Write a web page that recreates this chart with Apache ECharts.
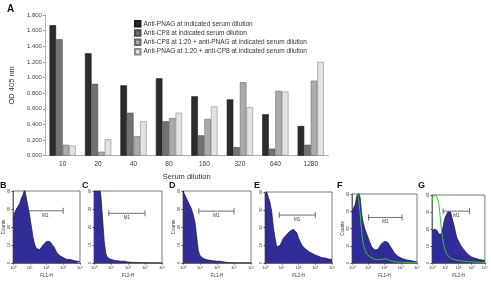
<!DOCTYPE html>
<html>
<head>
<meta charset="utf-8">
<script src="https://cdn.jsdelivr.net/npm/echarts@6/dist/echarts.min.js"></script>
<style>
html, body { margin: 0; padding: 0; background: #fff; }
#main { width: 491px; height: 281px; }
</style>
</head>
<body>
<div id="main"></div>
<script>
// panel A: ELISA OD by serum dilution
var dilutions = ['10', '20', '40', '80', '160', '320', '640', '1280']
var antiPNAG = [1.67, 1.31, 0.90, 0.99, 0.76, 0.72, 0.53, 0.38]
var antiCP8 = [1.49, 0.92, 0.55, 0.44, 0.26, 0.11, 0.09, 0.14]
var cp8PlusPNAG = [0.14, 0.05, 0.25, 0.48, 0.47, 0.94, 0.83, 0.96]
var pnagPlusCP8 = [0.13, 0.21, 0.44, 0.55, 0.63, 0.62, 0.82, 1.20]
var seriesNames = [
    'Anti-PNAG at indicated serum dilution',
    'Anti-CP8 at indicated serum dilution',
    'Anti-CP8 at 1:20 + anti-PNAG at indicated serum dilution',
    'Anti-PNAG at 1:20 + anti-CP8 at indicated serum dilution'
]

// panels B-G: flow histograms, channel position in decades (10^0 .. 10^4)
var decades = [0, 0.1, 0.2, 0.3, 0.4, 0.5, 0.6, 0.7, 0.8, 0.9, 1, 1.1, 1.2, 1.3, 1.4, 1.5, 1.6, 1.7, 1.8, 1.9, 2,
    2.1, 2.2, 2.3, 2.4, 2.5, 2.6, 2.7, 2.8, 2.9, 3, 3.1, 3.2, 3.3, 3.4, 3.5, 3.6, 3.7, 3.8, 3.9, 4]
var histB = [24, 28, 30, 31, 33, 36, 38, 41, 36, 31, 26, 20, 14, 10, 8, 7, 7.5, 8.5, 10, 11, 12,
    12.5, 12, 11, 9.5, 8, 6, 5, 4, 3.5, 3, 2.5, 2, 2.5, 2, 1.5, 1.5, 1.2, 1, 1, 0.8]
var histC = [45, 45, 44, 42, 38, 25, 12, 5, 3, 2.5, 2, 1.8, 1.5, 1.5, 1.2, 1, 1, 1.2, 1, 0.8, 0.5,
    0.5, 0.4, 0.4, 0.3, 0.3, 0.3, 0.2, 0.2, 0.2, 0.2, 0.2, 0.1, 0.1, 0.1, 0.1, 0.1, 0.1, 0.1, 0.1, 0.1]
var histD = [40, 38, 36, 34, 32, 30, 27, 23, 15, 7, 4, 3, 2.5, 2, 1.8, 1.5, 1.5, 1.2, 1.2, 1.5, 1,
    1.2, 1, 0.8, 0.6, 0.4, 0.3, 0.3, 0.2, 0.2, 0.2, 0.2, 0.1, 0.1, 0.1, 0.1, 0.1, 0.1, 0.1, 0.1, 0.1]
var histE = [38, 40, 37, 34, 29, 20, 14, 9, 8, 10, 12, 14, 15, 16, 17, 18, 19, 19, 18, 17, 14,
    12, 10, 9, 8, 7, 6.5, 6, 5.5, 5, 4.5, 4, 3.8, 3.5, 3, 3, 2.8, 2.5, 2.2, 2, 2]
var histF = [29, 32, 34, 39, 41, 38, 28, 23, 19.5, 17, 14.5, 12, 9.5, 8.5, 7.5, 7.5, 8, 9, 11, 12, 12.5,
    13, 12, 10.5, 9, 7.5, 6, 5, 4, 3.5, 3, 2.5, 2.2, 2, 1.8, 1.5, 1.4, 1.2, 1, 1, 0.8]
var histFctrl = [45, 45, 44, 42, 38, 29, 17, 11, 7.5, 5.5, 4.5, 3.5, 3, 2.5, 2.2, 2, 2, 2, 2, 2.2, 2.5,
    2.5, 2, 1.5, 1.2, 1, 0.8, 0.7, 0.6, 0.5, 0.5, 0.4, 0.4, 0.3, 0.3, 0.3, 0.2, 0.2, 0.2, 0.2, 0.2]
var histG = [19, 20, 20, 19.5, 19, 17, 16, 17, 20, 24, 27, 28, 30, 31, 30, 27, 24, 21, 17, 14.5, 13,
    11.5, 10, 9, 8, 7, 6, 5, 4.5, 4, 3.5, 3, 3, 2.8, 2.5, 2.3, 2, 2, 1.8, 1.5, 1.5]
var histGctrl = [36, 40, 40, 40, 40, 36, 29, 20, 15, 10, 7.5, 5.5, 4.5, 3.5, 3, 2.5, 2.2, 2, 1.8, 1.5, 1.5,
    1.3, 1.2, 1.1, 1, 1, 0.9, 0.8, 0.8, 0.7, 0.7, 0.6, 0.6, 0.5, 0.5, 0.5, 0.4, 0.4, 0.4, 0.3, 0.3]
// M1 gate: [from decade, to decade, count level]
var gateB = [0.87, 3.0, 29]
var gateC = [0.87, 3.0, 27.6]
var gateD = [0.93, 3.0, 28.8]
var gateE = [0.85, 3.0, 27]
var gateF = [1.02, 3.08, 26.4]
var gateG = [0.84, 2.84, 30.5]

var font = 'Liberation Sans, Arial, sans-serif'
var sup = ['\u2070', '\u00b9', '\u00b2', '\u00b3', '\u2074']

var panels = [
    { letter: 'B', hist: histB, ctrl: null, gate: gateB, xName: 'FL1-H', counts: true, box: [11, 191, 69, 72] },
    { letter: 'C', hist: histC, ctrl: null, gate: gateC, xName: 'FL2-H', counts: false, box: [94, 191, 68, 72] },
    { letter: 'D', hist: histD, ctrl: null, gate: gateD, xName: 'FL1-H', counts: true, box: [183, 191, 68, 72] },
    { letter: 'E', hist: histE, ctrl: null, gate: gateE, xName: 'FL2-H', counts: false, box: [265, 192, 67, 71] },
    { letter: 'F', hist: histF, ctrl: histFctrl, gate: gateF, xName: 'FL1-H', counts: true, box: [352, 194, 65, 69] },
    { letter: 'G', hist: histG, ctrl: histGctrl, gate: gateG, xName: 'FL2-H', counts: false, box: [432, 195, 68, 68] }
]
var letterX = [0, 82, 169, 254, 337, 418]

function gateItem(params, api) {
    var a = api.coord([api.value(0), api.value(2)])
    var b = api.coord([api.value(1), api.value(2)])
    var st = { stroke: '#333', lineWidth: 0.7 }
    return {
        type: 'group',
        children: [
            { type: 'line', shape: { x1: a[0], y1: a[1], x2: b[0], y2: b[1] }, style: st },
            { type: 'line', shape: { x1: a[0], y1: a[1] - 3, x2: a[0], y2: a[1] + 3 }, style: st },
            { type: 'line', shape: { x1: b[0], y1: b[1] - 3, x2: b[0], y2: b[1] + 3 }, style: st },
            {
                type: 'text',
                style: {
                    text: 'M1', x: (a[0] + b[0]) / 2, y: a[1] + 2,
                    align: 'center', verticalAlign: 'top',
                    fontSize: 4.5, fontFamily: font, fill: '#333'
                }
            }
        ]
    }
}

var grids = [{ left: 39.5, right: 162.5, top: 15, bottom: 125.3 }]
var xAxes = [{
    type: 'category', gridIndex: 0, data: dilutions,
    name: 'Serum dilution', nameLocation: 'middle', nameGap: 16,
    nameTextStyle: { fontSize: 7.5, color: '#333', fontFamily: font },
    axisLine: { lineStyle: { color: '#999', width: 0.8 } },
    axisTick: { length: 3, lineStyle: { color: '#999' } },
    axisLabel: { fontSize: 6.5, color: '#333', margin: 5, fontFamily: font }
}]
var yAxes = [{
    type: 'value', gridIndex: 0, min: 0, max: 1.8, interval: 0.2,
    name: 'OD 405 nm', nameLocation: 'middle', nameGap: 25,
    nameTextStyle: { fontSize: 7.5, color: '#333', fontFamily: font },
    axisLine: { show: true, lineStyle: { color: '#999', width: 0.8 } },
    axisTick: { show: true, length: 2, lineStyle: { color: '#999' } },
    splitLine: { show: false },
    axisLabel: { fontSize: 6, color: '#444', margin: 3, fontFamily: font, formatter: function (v) { return v.toFixed(3) } }
}]

var barColors = ['#2b2b30', '#727272', '#ababab', '#e2e2e2']
var barBorders = ['#1a1a1a', '#4a4a4a', '#6a6a6a', '#8a8a8a']
var barData = [antiPNAG, antiCP8, cp8PlusPNAG, pnagPlusCP8]
var series = barData.map(function (vals, i) {
    return {
        type: 'bar', name: seriesNames[i], xAxisIndex: 0, yAxisIndex: 0,
        data: vals, barGap: '0%', barCategoryGap: '26%',
        itemStyle: { color: barColors[i], borderColor: barBorders[i], borderWidth: 0.6 }
    }
})

var graphics = [{ type: 'text', left: 7, top: 4, style: { text: 'A', fontSize: 10, fontWeight: 'bold', fontFamily: font, fill: '#111' } }]

panels.forEach(function (p, k) {
    var g = k + 1
    grids.push({
        left: p.box[0], top: p.box[1], width: p.box[2], height: p.box[3],
        show: true, borderColor: '#444', borderWidth: 0.7
    })
    xAxes.push({
        type: 'value', gridIndex: g, min: 0, max: 4, interval: 1,
        name: p.xName, nameLocation: 'middle', nameGap: 10,
        nameTextStyle: { fontSize: 4.5, color: '#333', fontFamily: font },
        axisLine: { lineStyle: { color: '#444', width: 0.7 } },
        axisTick: { length: 1.5, lineStyle: { color: '#444' } },
        splitLine: { show: false },
        axisLabel: { fontSize: 4, color: '#333', margin: 2.5, fontFamily: font, formatter: function (v) { return '10' + sup[v] } }
    })
    yAxes.push({
        type: 'value', gridIndex: g, min: 0, max: 40, interval: 10,
        name: p.counts ? 'Counts' : '', nameLocation: 'middle', nameGap: 7, nameRotate: 90,
        nameTextStyle: { fontSize: 4.5, color: '#333', fontFamily: font },
        axisLine: { show: true, lineStyle: { color: '#444', width: 0.7 } },
        axisTick: { show: true, length: 1.5, lineStyle: { color: '#444' } },
        splitLine: { show: false },
        axisLabel: { fontSize: 4, color: '#333', margin: 2, rotate: 90, fontFamily: font }
    })
    series.push({
        type: 'line', xAxisIndex: g, yAxisIndex: g, showSymbol: false, silent: true,
        data: decades.map(function (d, i) { return [d, p.hist[i]] }),
        lineStyle: { color: '#15152a', width: 0.7 },
        areaStyle: { color: '#312d98', opacity: 1 }
    })
    if (p.ctrl) {
        series.push({
            type: 'line', xAxisIndex: g, yAxisIndex: g, showSymbol: false, silent: true,
            data: decades.map(function (d, i) { return [d, p.ctrl[i]] }),
            lineStyle: { color: '#3cc23c', width: 1 }
        })
    }
    series.push({
        type: 'custom', xAxisIndex: g, yAxisIndex: g, silent: true, z: 5,
        renderItem: gateItem, data: [p.gate]
    })
    graphics.push({ type: 'text', left: letterX[k], top: 181, style: { text: p.letter, fontSize: 9, fontWeight: 'bold', fontFamily: font, fill: '#111' } })
})

var myChart = echarts.init(document.getElementById('main'))
myChart.setOption({
    animation: false,
    backgroundColor: '#fff',
    textStyle: { fontFamily: font },
    legend: {
        data: seriesNames, orient: 'vertical', left: 134, top: 20, padding: 0,
        icon: 'rect', itemWidth: 5.5, itemHeight: 5.5, itemGap: 1.8,
        textStyle: { fontSize: 6.5, color: '#333', fontFamily: font, padding: [0, 0, 0, -2] }
    },
    grid: grids,
    xAxis: xAxes,
    yAxis: yAxes,
    series: series,
    graphic: graphics
})
</script>
</body>
</html>
